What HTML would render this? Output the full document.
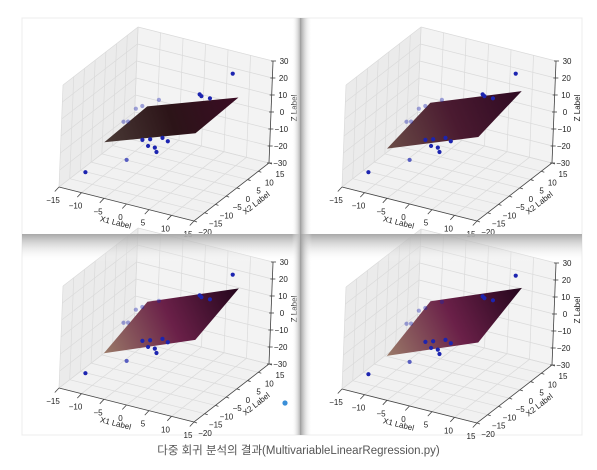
<!DOCTYPE html>
<html><head><meta charset="utf-8"><style>
html,body{margin:0;padding:0;background:#fff;width:597px;height:470px;overflow:hidden}
svg{position:absolute;left:0;top:0}
text{font-family:"Liberation Sans",sans-serif;fill:#222}
#cap{position:absolute;left:0;width:597px;top:442px;text-align:center;font:11.5px "Liberation Sans","Noto Sans CJK KR",sans-serif;color:#555}
</style></head><body>
<svg id="chart" width="597" height="470" viewBox="0 0 597 470">
<defs>
<linearGradient id="shadeL" x1="0" x2="1" y1="0" y2="0"><stop offset="0" stop-color="#fff" stop-opacity="0"/><stop offset="1" stop-color="#b8b8b8"/></linearGradient>
<linearGradient id="shadeR" x1="0" x2="1" y1="0" y2="0"><stop offset="0" stop-color="#9a9a9a"/><stop offset="1" stop-color="#fff" stop-opacity="0"/></linearGradient>
<linearGradient id="shadeT" x1="0" x2="0" y1="0" y2="1"><stop offset="0" stop-color="#a8a8a8"/><stop offset="1" stop-color="#fff" stop-opacity="0"/></linearGradient>
</defs>
<rect x="22" y="18" width="560" height="417" fill="#fff" stroke="#ececec" stroke-width="1"/>
<g id="panels"></g>
<rect x="22" y="234" width="560" height="28" fill="url(#shadeT)"/>
<rect x="292" y="18" width="8" height="417" fill="url(#shadeL)"/>
<rect x="300" y="18" width="12" height="417" fill="url(#shadeR)"/>
<circle cx="285" cy="403" r="2.6" fill="#3a8fd8"/>
</svg>
<div id="cap">다중 회귀 분석의 결과(MultivariableLinearRegression.py)</div>
<script>
// data
const x1Ticks = [-15,-10,-5,0,5,10,15];
const x2Ticks = [-20,-15,-10,-5,0,5,10,15];
const zTicks = [-30,-20,-10,0,10,20,30];
const ptX1 = [13.1,6,6.4,8.3,-5.2,-8.8,-10.2,-12.8,-11.8,-6.2,-4.5,-1.8,-0.6,-4.9,-3.4,-3,-9.5,-11.6];
const ptX2 = [0,0,0,0,5,5,5,5,5,0,0,0,0,0,0,0,0,-15];
const ptZ  = [35.9,19,18.2,18.2,3.4,-2.6,-5.1,-14.5,-13.8,-15.9,-14.4,-11.8,-13,-18.6,-18.6,-20.9,-29.9,-23.9];
const planeA = [0.93,1.01,1.06,1.06];
const planeB = [0.08,0.375,0.54,0.63];
const planeC = [0,0,0,0];
const planeRange = [-10,10];

const NS="http://www.w3.org/2000/svg";
const offsets=[[0,0],[283,0],[0,201],[283,202]];
const planeColors=[["#4a3a36","#2c1418","#3a0c24"],["#6a4c46","#4a1a30","#2e0a22"],["#9a7a68","#6a2048","#24061c"],["#9a7a68","#6a2048","#24061c"]];
function mk(tag,attrs,parent){const e=document.createElementNS(NS,tag);for(const k in attrs)e.setAttribute(k,attrs[k]);parent.appendChild(e);return e;}
const root=document.getElementById('panels');
offsets.forEach((off,pi)=>{
  const P=(x,y,z)=>[59+(x+15)*4.5+(y+20)*2.143+(z+30)*0.067+off[0],187+(x+15)*1.133-(y+20)*1.657-(z+30)*1.7+off[1]];
  const pts=a=>a.map(p=>P(...p).join(',')).join(' ');
  const g=mk('g',{},root);
  
  
  const floor=mk('polygon',{points:pts([[-15,-20,-30],[15,-20,-30],[15,15,-30],[-15,15,-30]]),fill:'#f1f1f1'},g);
  
  const left=mk('polygon',{points:pts([[-15,-20,-30],[-15,15,-30],[-15,15,30],[-15,-20,30]]),fill:'#ebebeb'},g);
  
  const back=mk('polygon',{points:pts([[-15,15,-30],[15,15,-30],[15,15,30],[-15,15,30]]),fill:'#f3f3f3'},g);
  
  const grid=mk('g',{stroke:'#dadada','stroke-width':0.7,fill:'none'},g);
  
  const line=(a,b)=>{const p=P(...a),q=P(...b);mk('line',{x1:p[0],y1:p[1],x2:q[0],y2:q[1]},grid);};
  x1Ticks.forEach(v=>{line([v,-20,-30],[v,15,-30]);line([v,15,-30],[v,15,30]);});
  x2Ticks.forEach(v=>{line([-15,v,-30],[15,v,-30]);line([-15,v,-30],[-15,v,30]);});
  zTicks.forEach(v=>{line([-15,-20,v],[-15,15,v]);line([-15,15,v],[15,15,v]);});
  const ax=mk('g',{stroke:'#444','stroke-width':0.8},g);
  
  const aline=(a,b)=>{const p=P(...a),q=P(...b);mk('line',{x1:p[0],y1:p[1],x2:q[0],y2:q[1]},ax);};
  aline([-15,-20,-30],[15,-20,-30]);aline([15,-20,-30],[15,15,-30]);aline([15,15,-30],[15,15,30]);
  const txt=(s,x,y,anchor,name,rot)=>{const t=mk('text',{x:x,y:y,'font-size':8,'text-anchor':anchor||'middle'},g);if(rot)t.setAttribute('transform',`rotate(${rot} ${x} ${y})`);t.textContent=s;return t;};
  x1Ticks.forEach(v=>{const p=P(v,-20,-30);const q=P(v,-21.5,-30);mk('line',{x1:p[0],y1:p[1],x2:q[0]-1,y2:q[1]+2},ax);txt(String(v).replace('-','\u2212'),p[0]-6,p[1]+16,'middle','x1-tick-label');});
  x2Ticks.forEach(v=>{const p=P(15,v,-30);mk('line',{x1:p[0],y1:p[1],x2:p[0]+3,y2:p[1]+1},ax);txt(String(v).replace('-','\u2212'),p[0]+11,p[1]+14,'middle','x2-tick-label');});
  zTicks.forEach(v=>{const p=P(15,15,v);mk('line',{x1:p[0]-2,y1:p[1],x2:p[0]+3,y2:p[1]},ax);txt(String(v).replace('-','\u2212'),p[0]+11,p[1]+3,'middle','z-tick-label');});
  txt('X1 Label',115+off[0],225+off[1],'middle','x1-axis-title',14);
  txt('X2 Label',258+off[0],205+off[1],'middle','x2-axis-title',-38);
  txt('Z Label',297+off[0],108+off[1],'middle','z-axis-title',-90);
  // plane
  const A=planeA[pi],B=planeB[pi],C=planeC[pi],r0=planeRange[0],r1=planeRange[1];
  const zf=(x,y)=>A*x+B*y+C;
  const gid='pg'+pi;
  const c0=P(r0,r0,zf(r0,r0)),c1=P(r1,r1,zf(r1,r1));
  const lg=mk('linearGradient',{id:gid,gradientUnits:'userSpaceOnUse',x1:c0[0],y1:c0[1],x2:c1[0],y2:c1[1]},g);
  mk('stop',{offset:0,'stop-color':planeColors[pi][0]},lg);mk('stop',{offset:0.5,'stop-color':planeColors[pi][1]},lg);mk('stop',{offset:1,'stop-color':planeColors[pi][2]},lg);
  const pl=mk('polygon',{points:pts([[r0,r0,zf(r0,r0)],[r1,r0,zf(r1,r0)],[r1,r1,zf(r1,r1)],[r0,r1,zf(r0,r1)]]),fill:`url(#${gid})`},g);
  
  // points
  ptX1.forEach((x,i)=>{const p=P(x,ptX2[i],ptZ[i]);const d=0.5*x-0.87*ptX2[i];const op=Math.max(0.4,Math.min(1,(d+9)/6));
    const c=mk('circle',{cx:p[0],cy:p[1],r:2.1,fill:'#1c24b0','fill-opacity':op},g);
    
    });
});
</script>
</body></html>
